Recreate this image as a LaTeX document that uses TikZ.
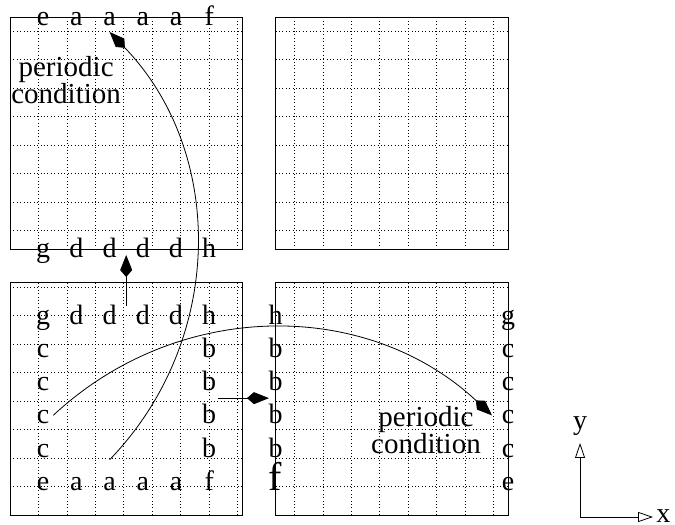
\documentclass[tikz,border=0pt]{standalone}
\usepackage{fontspec}
\setmainfont{Liberation Serif}
\usetikzlibrary{arrows.meta}

\begin{document}
\begin{tikzpicture}[x=33.2pt,y=33.2pt,line width=0.8pt,
  every node/.style={font=\fontsize{28}{25}\selectfont},
  lbl/.style={inner sep=0pt,text height=20pt,text depth=3pt},
  note/.style={align=center,inner sep=0pt,font=\fontsize{29}{25}\selectfont},
  dots/.style={dash pattern=on 0.8pt off 2.6pt},
  bc/.style={-{Kite[length=22pt,width=12pt,inset=7pt]}},
  ax/.style={-{Triangle[open,length=15pt,width=10pt]}}]
  \useasboundingbox (-0.301,-0.271) rectangle (20.03,15.512);
  % four blocks with their dotted cells
  \foreach \x/\y in {0/0,8/0,0/8,8/8} {
    \draw[dots] (\x,\y) grid +(7,7);
    \draw (\x,\y) rectangle +(7,7);
  }
  % lower left block
  \foreach \t [count=\i] in {e,a,a,a,a,f} \node[lbl] (p\i-1) at (\i,1) {\t};
  \foreach \t [count=\i] in {g,d,d,d,d,h} \node[lbl] (p\i-6) at (\i,6) {\t};
  \foreach \j in {2,...,5} {
    \node[lbl] (p1-\j) at (1,\j) {c};
    \node[lbl] (p6-\j) at (6,\j) {b};
  }
  % lower right block, only its edges
  \node[lbl,font=\fontsize{40}{40}\selectfont] (q0-1) at (8,1) {f};
  \node[lbl] (q7-1) at (15,1) {e};
  \foreach \j in {2,...,5} {
    \node[lbl] (q0-\j) at (8,\j) {b};
    \node[lbl] (q7-\j) at (15,\j) {c};
  }
  \node[lbl] (q0-6) at (8,6) {h};
  \node[lbl] (q7-6) at (15,6) {g};
  % upper left block, top and bottom rows
  \foreach \t [count=\i] in {e,a,a,a,a,f} \node[lbl] (u\i-15) at (\i,15) {\t};
  \foreach \t [count=\i] in {g,d,d,d,d,h} \node[lbl] (u\i-8) at (\i,8) {\t};
  \node[note] (pc1) at (1.69,13.1) {periodic\\condition};
  \node[note] (pc2) at (12.53,2.56) {periodic\\condition};
  % copies
  \draw[bc] ([yshift=22pt]p3-1.center) to[bend right=44] ([yshift=-15pt]u3-15.center);
  \draw[bc] ([xshift=10pt]p1-3.center) to[bend left=43] ([xshift=-16pt]q7-3.center);
  \coordinate (v0) at (3.5,6.3);
  \coordinate (v1) at (3.5,7.83);
  \draw[bc] (v0) -- (v1);
  \coordinate (h0) at (6.27,3.52);
  \coordinate (h1) at (7.8,3.52);
  \draw[bc] (h0) -- (h1);
  % axes
  \coordinate (o) at (17.17,-0.06);
  \coordinate (ytip) at (17.17,2.17);
  \coordinate (xtip) at (19.37,-0.06);
  \draw[ax] (o) -- (ytip);
  \draw[ax] (o) -- (xtip);
  \node (ylab) at (17.17,2.68) {y};
  \node[inner sep=0pt] (xlab) at (19.68,-0.02) {x};
\end{tikzpicture}
\end{document}
